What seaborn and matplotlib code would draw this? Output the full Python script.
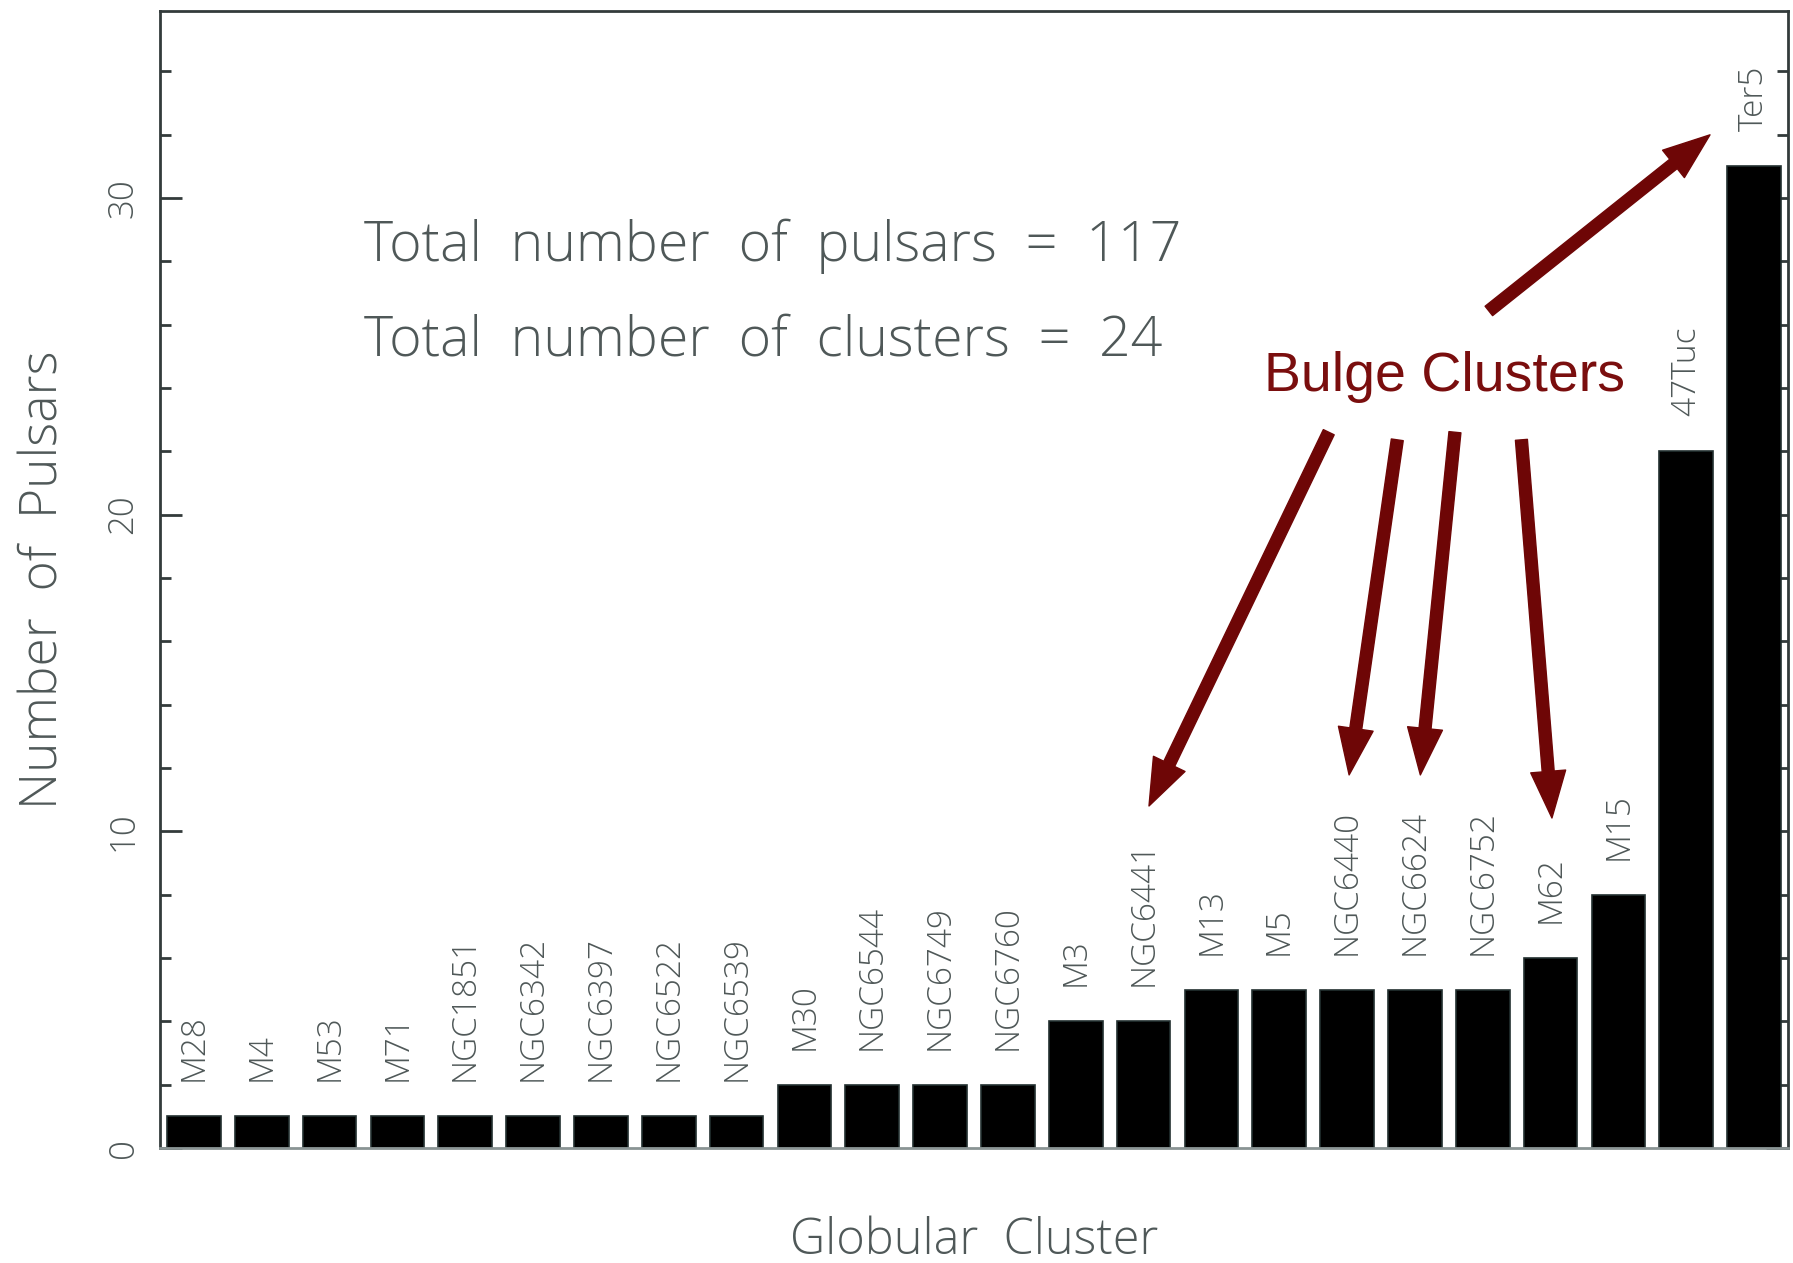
import matplotlib
matplotlib.use("Agg")
import matplotlib.pyplot as plt
from matplotlib.ticker import MultipleLocator
import seaborn as sns
import pandas as pd

# Millisecond pulsars known per globular cluster
clusters = ["M28", "M4", "M53", "M71", "NGC1851", "NGC6342", "NGC6397",
            "NGC6522", "NGC6539", "M30", "NGC6544", "NGC6749", "NGC6760",
            "M3", "NGC6441", "M13", "M5", "NGC6440", "NGC6624", "NGC6752",
            "M62", "M15", "47Tuc", "Ter5"]
n_pulsars = [1, 1, 1, 1, 1, 1, 1, 1, 1, 2, 2, 2, 2,
             4, 4, 5, 5, 5, 5, 5, 6, 8, 22, 31]

df = pd.DataFrame({"cluster": clusters, "n": n_pulsars})

sns.set_theme(style="white")
plt.rcParams["font.family"] = ["Open Sans", "Noto Sans", "DejaVu Sans"]
plt.rcParams["font.weight"] = "light"
plt.rcParams["axes.labelweight"] = "light"

grey_text = "#4f5858"
axis_col = "#333b3b"
red = "#6e0606"

fig = plt.figure(figsize=(17.93, 12.63), dpi=100)
ax = fig.add_axes([160 / 1793, 1 - 1148 / 1263, (1788 - 160) / 1793, (1148 - 11) / 1263])

sns.barplot(data=df, x="cluster", y="n", color="black", width=0.79,
            edgecolor="#223030", linewidth=1.2, saturation=1, ax=ax)

ax.set_xlim(-0.5, 23.5)
ax.set_ylim(0, 35.9)

# cluster names written upright above each bar
label_gap = 1.1
for i, (name, v) in enumerate(zip(clusters, n_pulsars)):
    ax.text(i, v + label_gap, name, rotation=90, ha="center", va="bottom",
            fontsize=24, color=grey_text, fontweight="light")

# axes frame and ticks
for side in ["left", "right", "top", "bottom"]:
    ax.spines[side].set_visible(True)
    ax.spines[side].set_color(axis_col)
    ax.spines[side].set_linewidth(2)
ax.spines["bottom"].set_color("#8a9494")

ax.set_xticks([])
ax.yaxis.set_major_locator(MultipleLocator(10))
ax.yaxis.set_minor_locator(MultipleLocator(2))
ax.tick_params(axis="y", which="both", direction="in", left=True, right=True,
               color=axis_col, width=2)
ax.tick_params(axis="y", which="major", length=16, pad=14, labelsize=25,
               labelcolor=grey_text)
ax.tick_params(axis="y", which="minor", length=8)
for lab in ax.get_yticklabels():
    lab.set_rotation(90)
    lab.set_va("center")
    lab.set_fontweight("light")

ax.set_xlabel("Globular  Cluster", fontsize=35, color=grey_text,
              fontweight="light", labelpad=49)
ax.set_ylabel("Number  of  Pulsars", fontsize=37, color=grey_text,
              fontweight="light", labelpad=26)

total_pulsars = sum(n_pulsars)
total_clusters = len(clusters)
ax.text(2.51, 28.48, f"Total  number  of  pulsars  =  {total_pulsars}",
        fontsize=40, color=grey_text, fontweight="light", va="center", ha="left")
ax.text(2.51, 25.48, f"Total  number  of  clusters  =  {total_clusters}",
        fontsize=40, color=grey_text, fontweight="light", va="center", ha="left")

ax.text(18.44, 24.35, "Bulge Clusters", fontsize=40, color="#7a0e0e",
        family=["Liberation Sans", "DejaVu Sans"], fontweight="normal",
        ha="center", va="center")

# arrows from the caption to the bulge cluster labels
arrow_style = dict(arrowstyle="simple,head_length=1.4,head_width=1.05,tail_width=0.36",
                   mutation_scale=24, color=red, shrinkA=0, shrinkB=0)
arrows = [((16.73, 22.6), (14.08, 10.8)),
          ((17.74, 22.36), (17.03, 11.78)),
          ((18.59, 22.6), (18.08, 11.78)),
          ((19.57, 22.36), (20.02, 10.42)),
          ((19.09, 26.43), (22.35, 31.99))]
for tail, head in arrows:
    ax.annotate("", xy=head, xytext=tail, xycoords="data", arrowprops=arrow_style)

fig.savefig("out.png", dpi=100, facecolor="white")
